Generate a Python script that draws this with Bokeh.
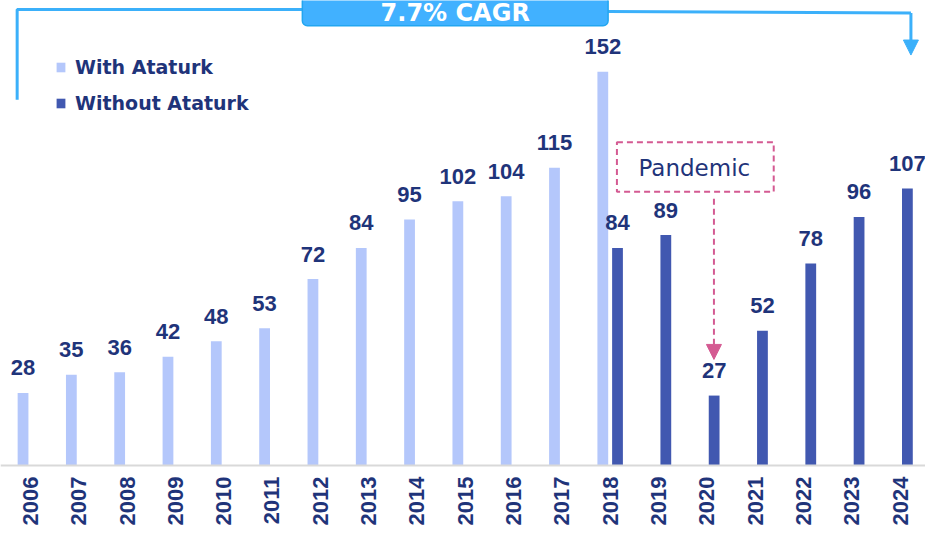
import math
from bokeh.plotting import figure
from bokeh.models import (Range1d, ColumnDataSource, Legend, LegendItem, Span,
                          BoxAnnotation, Label, Arrow, NormalHead)
from bokeh.transform import dodge
from bokeh.core.properties import value
from bokeh.embed import file_html
from bokeh.resources import INLINE

# ---- data ----
years = [2006, 2007, 2008, 2009, 2010, 2011, 2012, 2013, 2014, 2015,
         2016, 2017, 2018, 2019, 2020, 2021, 2022, 2023, 2024]
year_labels = [str(y) for y in years]
with_years = [2006, 2007, 2008, 2009, 2010, 2011, 2012, 2013, 2014, 2015, 2016, 2017, 2018]
with_vals = [28, 35, 36, 42, 48, 53, 72, 84, 95, 102, 104, 115, 152]
without_years = [2018, 2019, 2020, 2021, 2022, 2023, 2024]
without_vals = [84, 89, 27, 52, 78, 96, 107]
series_names = ["With Ataturk", "Without Ataturk"]
cagr_text = "7.7% CAGR"
event_text = "Pandemic"

# ---- style ----
NAVY = "#1F347A"
LIGHT = "#B4C7FB"
DARK = "#4158B0"
BLUE = "#3BB0FA"
PINK = "#D45A92"

W, H = 925, 531
SX, SY = 0.98, 0.9915               # reference -> canvas pixel scaling
PX_PER_YEAR = 49.3 * SX
BASE_PX = 465                        # canvas y of the zero line
PX_PER_UNIT = 2.612 * SY
x0 = years[0] - (30.5 * SX) / PX_PER_YEAR
x1 = x0 + W / PX_PER_YEAR
y0 = -(H - BASE_PX) / PX_PER_UNIT
y1 = BASE_PX / PX_PER_UNIT

def X(px):  # reference pixel -> data x (annotations only)
    return x0 + px * SX / PX_PER_YEAR

def Y(py):  # reference pixel -> data y (annotations only)
    return (BASE_PX - py * SY) / PX_PER_UNIT

p = figure(width=W, height=H, output_backend="svg", toolbar_location=None,
           x_range=Range1d(x0, x1), y_range=Range1d(y0, y1),
           x_axis_location=None, y_axis_location=None,
           min_border_left=0, min_border_right=0, min_border_top=0, min_border_bottom=0)
p.outline_line_color = None
p.xgrid.visible = False
p.ygrid.visible = False
p.background_fill_color = "white"
p.border_fill_color = "white"

src_w = ColumnDataSource(dict(year=with_years, val=with_vals, lbl=[str(v) for v in with_vals]))
src_o = ColumnDataSource(dict(year=without_years, val=without_vals, lbl=[str(v) for v in without_vals]))

off = 7.5 * SX / PX_PER_YEAR
bw = 11 * SX / PX_PER_YEAR
r1 = p.vbar(x=dodge("year", -off, range=p.x_range), top="val", width=bw, source=src_w,
            fill_color=LIGHT, line_color=None)
r2 = p.vbar(x=dodge("year", off, range=p.x_range), top="val", width=bw, source=src_o,
            fill_color=DARK, line_color=None)

for src, o in ((src_w, -off), (src_o, off)):
    p.text(x=dodge("year", o, range=p.x_range), y="val", text="lbl", source=src,
           text_align="center", text_baseline="alphabetic", y_offset=-25,
           text_font=value("Liberation Sans"), text_font_style="bold",
           text_font_size="22px", text_color=NAVY)

# category axis: base line + vertical year labels
p.add_layout(Span(location=0, dimension="width", line_color="#D9D9D9", line_width=2))
src_y = ColumnDataSource(dict(year=years, lbl=year_labels))
p.text(x="year", y=-11 / PX_PER_UNIT, text="lbl", source=src_y, angle=math.pi / 2,
       text_align="right", text_baseline="middle",
       text_font=value("Liberation Sans"), text_font_style="bold",
       text_font_size="22px", text_color=NAVY)

# legend
legend = Legend(items=[LegendItem(label=series_names[0], renderers=[r1]),
                       LegendItem(label=series_names[1], renderers=[r2])],
                location="top_left", margin=55, padding=0, spacing=12,
                glyph_width=11, glyph_height=12, label_height=24, label_standoff=9,
                label_text_font="DejaVu Sans", label_text_font_style="bold",
                label_text_font_size="19px", label_text_color=NAVY,
                border_line_color=None, background_fill_alpha=0)
p.add_layout(legend)

# CAGR bracket
p.line(x=[X(17), X(17), X(308)], y=[Y(100), Y(9), Y(9)], line_color=BLUE, line_width=3)
p.line(x=[X(620), X(929)], y=[Y(11), Y(12.5)], line_color=BLUE, line_width=3)
p.add_layout(Arrow(end=NormalHead(size=15, fill_color=BLUE, line_color=BLUE),
                   x_start=X(929), y_start=Y(12.5), x_end=X(929), y_end=Y(55),
                   line_color=BLUE, line_width=3))
p.add_layout(BoxAnnotation(left=X(308), right=X(620), top=Y(-20), bottom=Y(25.5),
                           fill_color="#41B1FF", fill_alpha=1, line_color="#22A6F0",
                           line_alpha=1, line_width=1.5, border_radius=5))
p.add_layout(Label(x=X(464), y=Y(12.5), text=cagr_text, text_align="center",
                   text_baseline="middle", text_font="DejaVu Sans",
                   text_font_style="bold", text_font_size="24px", text_color="white"))

# Pandemic callout
p.add_layout(BoxAnnotation(left=X(629), right=X(789), top=Y(143), bottom=Y(193),
                           fill_alpha=0, line_color=PINK, line_alpha=1, line_width=2,
                           line_dash="6 4"))
p.add_layout(Label(x=X(708), y=Y(169), text=event_text, text_align="center",
                   text_baseline="middle", text_font="DejaVu Sans",
                   text_font_size="23px", text_color=NAVY))
p.add_layout(Arrow(end=NormalHead(size=15, fill_color=PINK, line_color=PINK),
                   x_start=X(728), y_start=Y(200), x_end=X(728), y_end=Y(362),
                   line_color=PINK, line_width=2, line_dash="6 4"))

open("out.html", "w").write(file_html(p, INLINE))
